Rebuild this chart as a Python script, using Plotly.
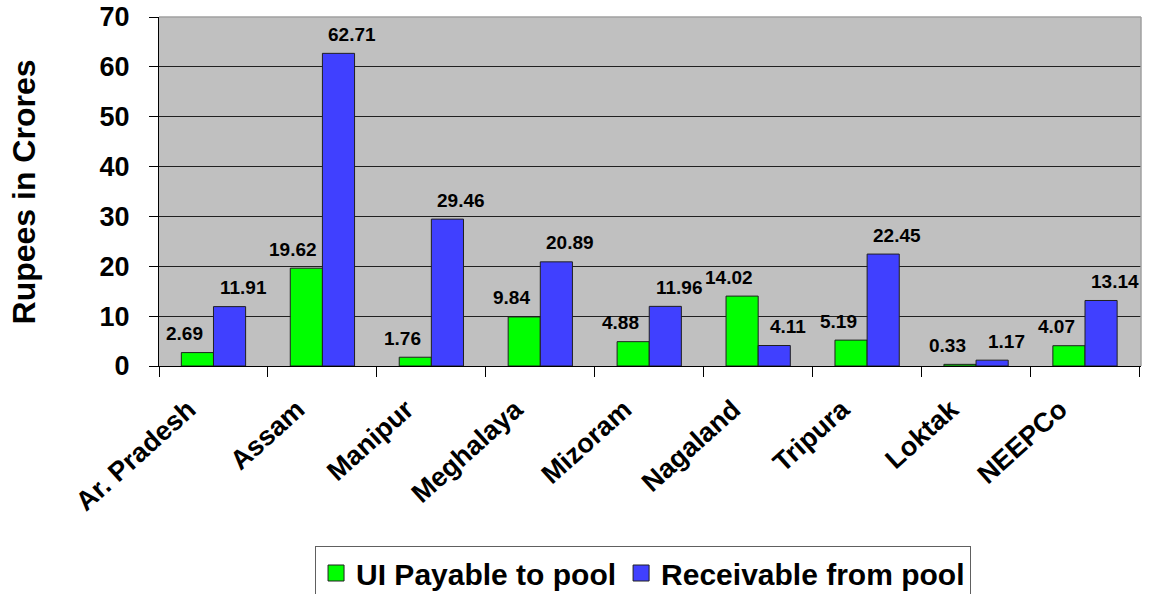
import plotly.graph_objects as go

categories = ["Ar. Pradesh", "Assam", "Manipur", "Meghalaya", "Mizoram",
              "Nagaland", "Tripura", "Loktak", "NEEPCo"]
payable = [2.69, 19.62, 1.76, 9.84, 4.88, 14.02, 5.19, 0.33, 4.07]
receivable = [11.91, 62.71, 29.46, 20.89, 11.96, 4.11, 22.45, 1.17, 13.14]
series_names = ["UI Payable to pool", "Receivable from pool"]
y_ticks = [0, 10, 20, 30, 40, 50, 60, 70]

FONT = "Liberation Sans, Arial, sans-serif"
GREEN = "#00FF00"
BLUE = "#4040FF"
EDGE = "#202020"

fig = go.Figure()
fig.add_trace(go.Bar(name=series_names[0], x=categories, y=payable, showlegend=False,
                     marker=dict(color=GREEN, line=dict(color=EDGE, width=1))))
fig.add_trace(go.Bar(name=series_names[1], x=categories, y=receivable, showlegend=False,
                     marker=dict(color=BLUE, line=dict(color=EDGE, width=1))))
# legend entries with larger square swatches
for name, col in zip(series_names, [GREEN, BLUE]):
    fig.add_trace(go.Scatter(name=name, x=[None], y=[None], mode="markers",
                             marker=dict(symbol="square", size=16, color=col,
                                         line=dict(color=EDGE, width=1))))

annotations = []
for c, v in zip(categories, payable):
    annotations.append(dict(x=c, y=v, xref="x", yref="y", text=f"{v:.2f}",
                            showarrow=False, xshift=-29, yshift=19,
                            yanchor="middle", xanchor="center",
                            font=dict(family=FONT, size=19, color="black", weight="bold")))
for c, v in zip(categories, receivable):
    annotations.append(dict(x=c, y=v, xref="x", yref="y", text=f"{v:.2f}",
                            showarrow=False, xshift=30, yshift=19,
                            yanchor="middle", xanchor="center",
                            font=dict(family=FONT, size=19, color="black", weight="bold")))
annotations.append(dict(x=-0.1375, y=0.5, xref="paper", yref="paper",
                        text="Rupees in Crores", textangle=-90, showarrow=False,
                        xanchor="center", yanchor="middle",
                        font=dict(family=FONT, size=32, color="black", weight="bold")))

fig.update_layout(
    width=1150, height=594,
    margin=dict(l=159, r=9, t=17, b=228, autoexpand=False),
    paper_bgcolor="white", plot_bgcolor="#C0C0C0",
    barmode="group", bargap=0.41, bargroupgap=0,
    font=dict(family=FONT, color="black"),
    showlegend=True,
    legend=dict(orientation="h", x=0.1589, xanchor="left", y=-0.5158, yanchor="top",
                bgcolor="white", bordercolor="#606060", borderwidth=1,
                font=dict(family=FONT, size=30, color="black", weight="bold"),
                itemwidth=30, traceorder="normal"),
    annotations=annotations,
    shapes=[
        dict(type="line", xref="paper", yref="paper", x0=0, x1=1, y0=1, y1=1,
             line=dict(color="#A0A0A0", width=1.5)),
        dict(type="line", xref="paper", yref="paper", x0=1, x1=1, y0=0, y1=1,
             line=dict(color="#A0A0A0", width=1.5)),
    ],
)
fig.update_xaxes(showline=True, linecolor="black", linewidth=1,
                 ticks="outside", ticklen=10, tickcolor="black", tickson="boundaries",
                 tickangle=-42, showgrid=False, ticklabelshift=-25, ticklabelstandoff=16,
                 tickfont=dict(family=FONT, size=27, color="black", weight="bold"))
fig.update_yaxes(range=[0, 70], tickvals=y_ticks, showline=True, linecolor="black",
                 linewidth=1, ticks="outside", ticklen=9, tickcolor="black",
                 showgrid=True, gridcolor="#202020", gridwidth=1, zeroline=False,
                 ticklabelstandoff=14, ticklabeloverflow="allow",
                 tickfont=dict(family=FONT, size=27, color="black", weight="bold"))

fig.write_html("out.html", config={"displayModeBar": False},
               post_script="document.body.style.margin='0';document.body.style.overflow='hidden';")
